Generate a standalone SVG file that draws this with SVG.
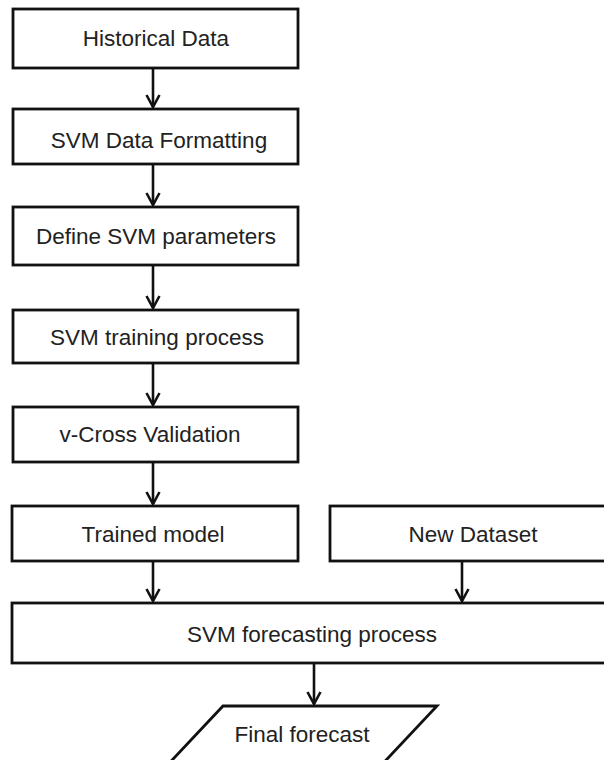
<svg xmlns="http://www.w3.org/2000/svg" width="604" height="760" viewBox="0 0 604 760">
<style>
.box{fill:#fff;stroke:#111;stroke-width:2.8}
.lbl{font-family:"Liberation Sans",Arial,sans-serif;font-size:22.5px;fill:#222;text-anchor:middle}
.con{fill:none;stroke:#111;stroke-width:2.6}
</style>
<defs>
<marker id="arr" markerUnits="userSpaceOnUse" markerWidth="16" markerHeight="18" viewBox="-14 -9 16 18" refX="0" refY="0" orient="auto">
<path d="M-12,-6.5 L0,0 L-12,6.5" fill="none" stroke="#111" stroke-width="2.6"/>
</marker>
</defs>
<rect width="604" height="760" fill="#fff"/>
<g id="connectors">
<line class="con" x1="153" y1="68" x2="153" y2="107" marker-end="url(#arr)"/>
<line class="con" x1="153" y1="164" x2="153" y2="205" marker-end="url(#arr)"/>
<line class="con" x1="153" y1="265" x2="153" y2="308" marker-end="url(#arr)"/>
<line class="con" x1="153" y1="363" x2="153" y2="405" marker-end="url(#arr)"/>
<line class="con" x1="153" y1="462" x2="153" y2="504" marker-end="url(#arr)"/>
<line class="con" x1="153" y1="561" x2="153" y2="601" marker-end="url(#arr)"/>
<line class="con" x1="462" y1="561" x2="462" y2="601" marker-end="url(#arr)"/>
<line class="con" x1="314" y1="663" x2="314" y2="704" marker-end="url(#arr)"/>
</g>
<g id="historical-data">
<rect class="box" x="13" y="9" width="285" height="59"/>
<text class="lbl" x="156" y="46">Historical Data</text>
</g>
<g id="svm-data-formatting">
<rect class="box" x="13" y="109" width="285" height="55"/>
<text class="lbl" x="159" y="148">SVM Data Formatting</text>
</g>
<g id="define-svm-parameters">
<rect class="box" x="13" y="207" width="285" height="58"/>
<text class="lbl" x="156" y="244">Define SVM parameters</text>
</g>
<g id="svm-training-process">
<rect class="box" x="13" y="310" width="285" height="53"/>
<text class="lbl" x="157" y="345">SVM training process</text>
</g>
<g id="v-cross-validation">
<rect class="box" x="13" y="407" width="285" height="55"/>
<text class="lbl" x="150" y="442">v-Cross Validation</text>
</g>
<g id="trained-model">
<rect class="box" x="12" y="506" width="286" height="55"/>
<text class="lbl" x="153" y="542">Trained model</text>
</g>
<g id="new-dataset">
<rect class="box" x="330" y="506" width="290" height="55"/>
<text class="lbl" x="473" y="542">New Dataset</text>
</g>
<g id="svm-forecasting-process">
<rect class="box" x="12" y="603" width="610" height="60"/>
<text class="lbl" x="312" y="642">SVM forecasting process</text>
</g>
<g id="final-forecast">
<polygon class="box" points="223,706 437,706 357,791 143,791"/>
<text class="lbl" x="302" y="742">Final forecast</text>
</g>
</svg>
